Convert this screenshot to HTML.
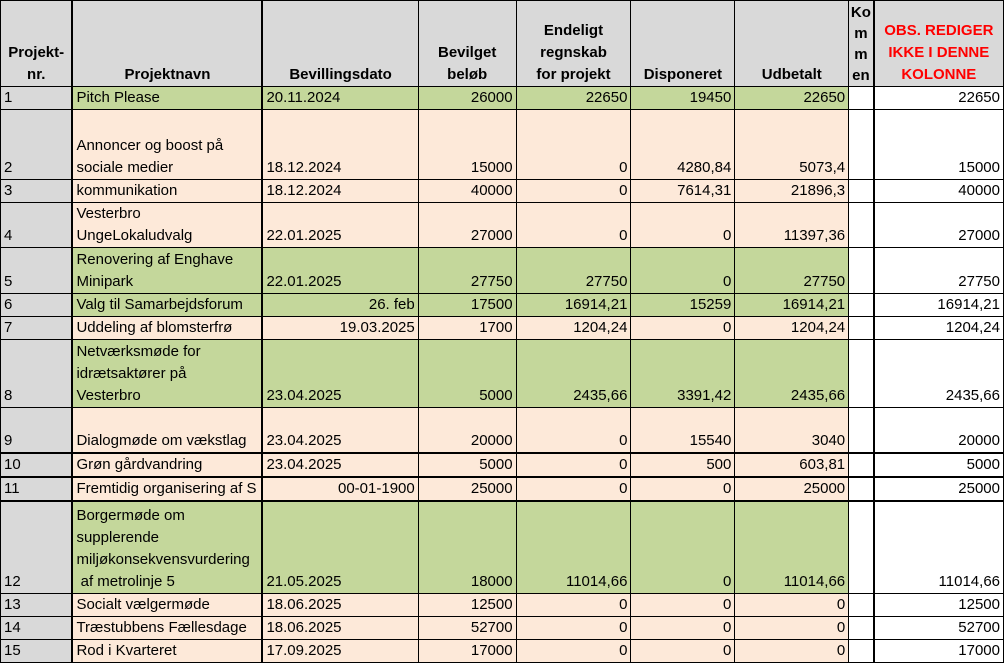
<!DOCTYPE html>
<html><head><meta charset="utf-8"><style>
html,body{margin:0;padding:0;background:#fff;}
table{border-collapse:collapse;table-layout:fixed;font-family:"Liberation Sans",sans-serif;font-size:15px;}
td{border:1px solid #000;padding:0 3px 0 3px;vertical-align:bottom;line-height:22px;overflow:hidden;white-space:nowrap;}
tr.h td{background:#d9d9d9;font-weight:bold;text-align:center;line-height:22px;white-space:normal;}
td.a{background:#d9d9d9;border-right:2px solid #000;}
td.b{border-right:2px solid #000;}
td.i{border-left:2px solid #000;text-align:right;background:#fff;}
td.hh{background:#fff;}
td.r{text-align:right;}
.g td.c{background:#c4d79b;}
.p td.c{background:#fde9d9;}
tr.t td{border-top:2px solid #000;}
</style></head><body>
<table>
<colgroup><col style="width:72px"><col style="width:190px"><col style="width:156px"><col style="width:98px"><col style="width:115px"><col style="width:104px"><col style="width:114px"><col style="width:25px"><col style="width:130px"></colgroup>
<tr class="h" style="height:86px"><td class="a" style="background:#d9d9d9">Projekt-<br>nr.</td><td class="b">Projektnavn</td><td>Bevillingsdato</td><td>Bevilget<br>beløb</td><td>Endeligt<br>regnskab<br>for projekt</td><td>Disponeret</td><td>Udbetalt</td><td style="padding:0;line-height:21px">Ko<br>m<br>m<br>en</td><td class="i" style="text-align:center;color:#ff0000;background:#d9d9d9">OBS. REDIGER<br>IKKE I DENNE<br>KOLONNE</td></tr>
<tr class="g" style="height:23px"><td class="a">1</td><td class="c b">Pitch Please</td><td class="c">20.11.2024</td><td class="c r">26000</td><td class="c r">22650</td><td class="c r">19450</td><td class="c r">22650</td><td class="hh"></td><td class="i">22650</td></tr>
<tr class="p" style="height:70px"><td class="a">2</td><td class="c b">Annoncer og boost på<br>sociale medier</td><td class="c">18.12.2024</td><td class="c r">15000</td><td class="c r">0</td><td class="c r">4280,84</td><td class="c r">5073,4</td><td class="hh"></td><td class="i">15000</td></tr>
<tr class="p" style="height:22px"><td class="a">3</td><td class="c b">kommunikation</td><td class="c">18.12.2024</td><td class="c r">40000</td><td class="c r">0</td><td class="c r">7614,31</td><td class="c r">21896,3</td><td class="hh"></td><td class="i">40000</td></tr>
<tr class="p" style="height:45px"><td class="a">4</td><td class="c b">Vesterbro<br>UngeLokaludvalg</td><td class="c">22.01.2025</td><td class="c r">27000</td><td class="c r">0</td><td class="c r">0</td><td class="c r">11397,36</td><td class="hh"></td><td class="i">27000</td></tr>
<tr class="g" style="height:46px"><td class="a">5</td><td class="c b">Renovering af Enghave<br>Minipark</td><td class="c">22.01.2025</td><td class="c r">27750</td><td class="c r">27750</td><td class="c r">0</td><td class="c r">27750</td><td class="hh"></td><td class="i">27750</td></tr>
<tr class="g" style="height:22px"><td class="a">6</td><td class="c b">Valg til Samarbejdsforum</td><td class="c r">26. feb</td><td class="c r">17500</td><td class="c r">16914,21</td><td class="c r">15259</td><td class="c r">16914,21</td><td class="hh"></td><td class="i">16914,21</td></tr>
<tr class="p" style="height:22px"><td class="a">7</td><td class="c b">Uddeling af blomsterfrø</td><td class="c r">19.03.2025</td><td class="c r">1700</td><td class="c r">1204,24</td><td class="c r">0</td><td class="c r">1204,24</td><td class="hh"></td><td class="i">1204,24</td></tr>
<tr class="g" style="height:68px"><td class="a">8</td><td class="c b">Netværksmøde for<br>idrætsaktører på<br>Vesterbro</td><td class="c">23.04.2025</td><td class="c r">5000</td><td class="c r">2435,66</td><td class="c r">3391,42</td><td class="c r">2435,66</td><td class="hh"></td><td class="i">2435,66</td></tr>
<tr class="p" style="height:45px"><td class="a">9</td><td class="c b">Dialogmøde om vækstlag</td><td class="c">23.04.2025</td><td class="c r">20000</td><td class="c r">0</td><td class="c r">15540</td><td class="c r">3040</td><td class="hh"></td><td class="i">20000</td></tr>
<tr class="p t" style="height:22px"><td class="a">10</td><td class="c b">Grøn gårdvandring</td><td class="c">23.04.2025</td><td class="c r">5000</td><td class="c r">0</td><td class="c r">500</td><td class="c r">603,81</td><td class="hh"></td><td class="i">5000</td></tr>
<tr class="p t" style="height:22px"><td class="a">11</td><td class="c b">Fremtidig organisering af S</td><td class="c r">00-01-1900</td><td class="c r">25000</td><td class="c r">0</td><td class="c r">0</td><td class="c r">25000</td><td class="hh"></td><td class="i">25000</td></tr>
<tr class="g t" style="height:93px"><td class="a">12</td><td class="c b">Borgermøde om<br>supplerende<br>miljøkonsekvensvurdering<br>&nbsp;af metrolinje 5</td><td class="c">21.05.2025</td><td class="c r">18000</td><td class="c r">11014,66</td><td class="c r">0</td><td class="c r">11014,66</td><td class="hh"></td><td class="i">11014,66</td></tr>
<tr class="p" style="height:22px"><td class="a">13</td><td class="c b">Socialt vælgermøde</td><td class="c">18.06.2025</td><td class="c r">12500</td><td class="c r">0</td><td class="c r">0</td><td class="c r">0</td><td class="hh"></td><td class="i">12500</td></tr>
<tr class="p" style="height:22px"><td class="a">14</td><td class="c b">Træstubbens Fællesdage</td><td class="c">18.06.2025</td><td class="c r">52700</td><td class="c r">0</td><td class="c r">0</td><td class="c r">0</td><td class="hh"></td><td class="i">52700</td></tr>
<tr class="p" style="height:22px"><td class="a">15</td><td class="c b">Rod i Kvarteret</td><td class="c">17.09.2025</td><td class="c r">17000</td><td class="c r">0</td><td class="c r">0</td><td class="c r">0</td><td class="hh"></td><td class="i">17000</td></tr>
</table>
</body></html>
